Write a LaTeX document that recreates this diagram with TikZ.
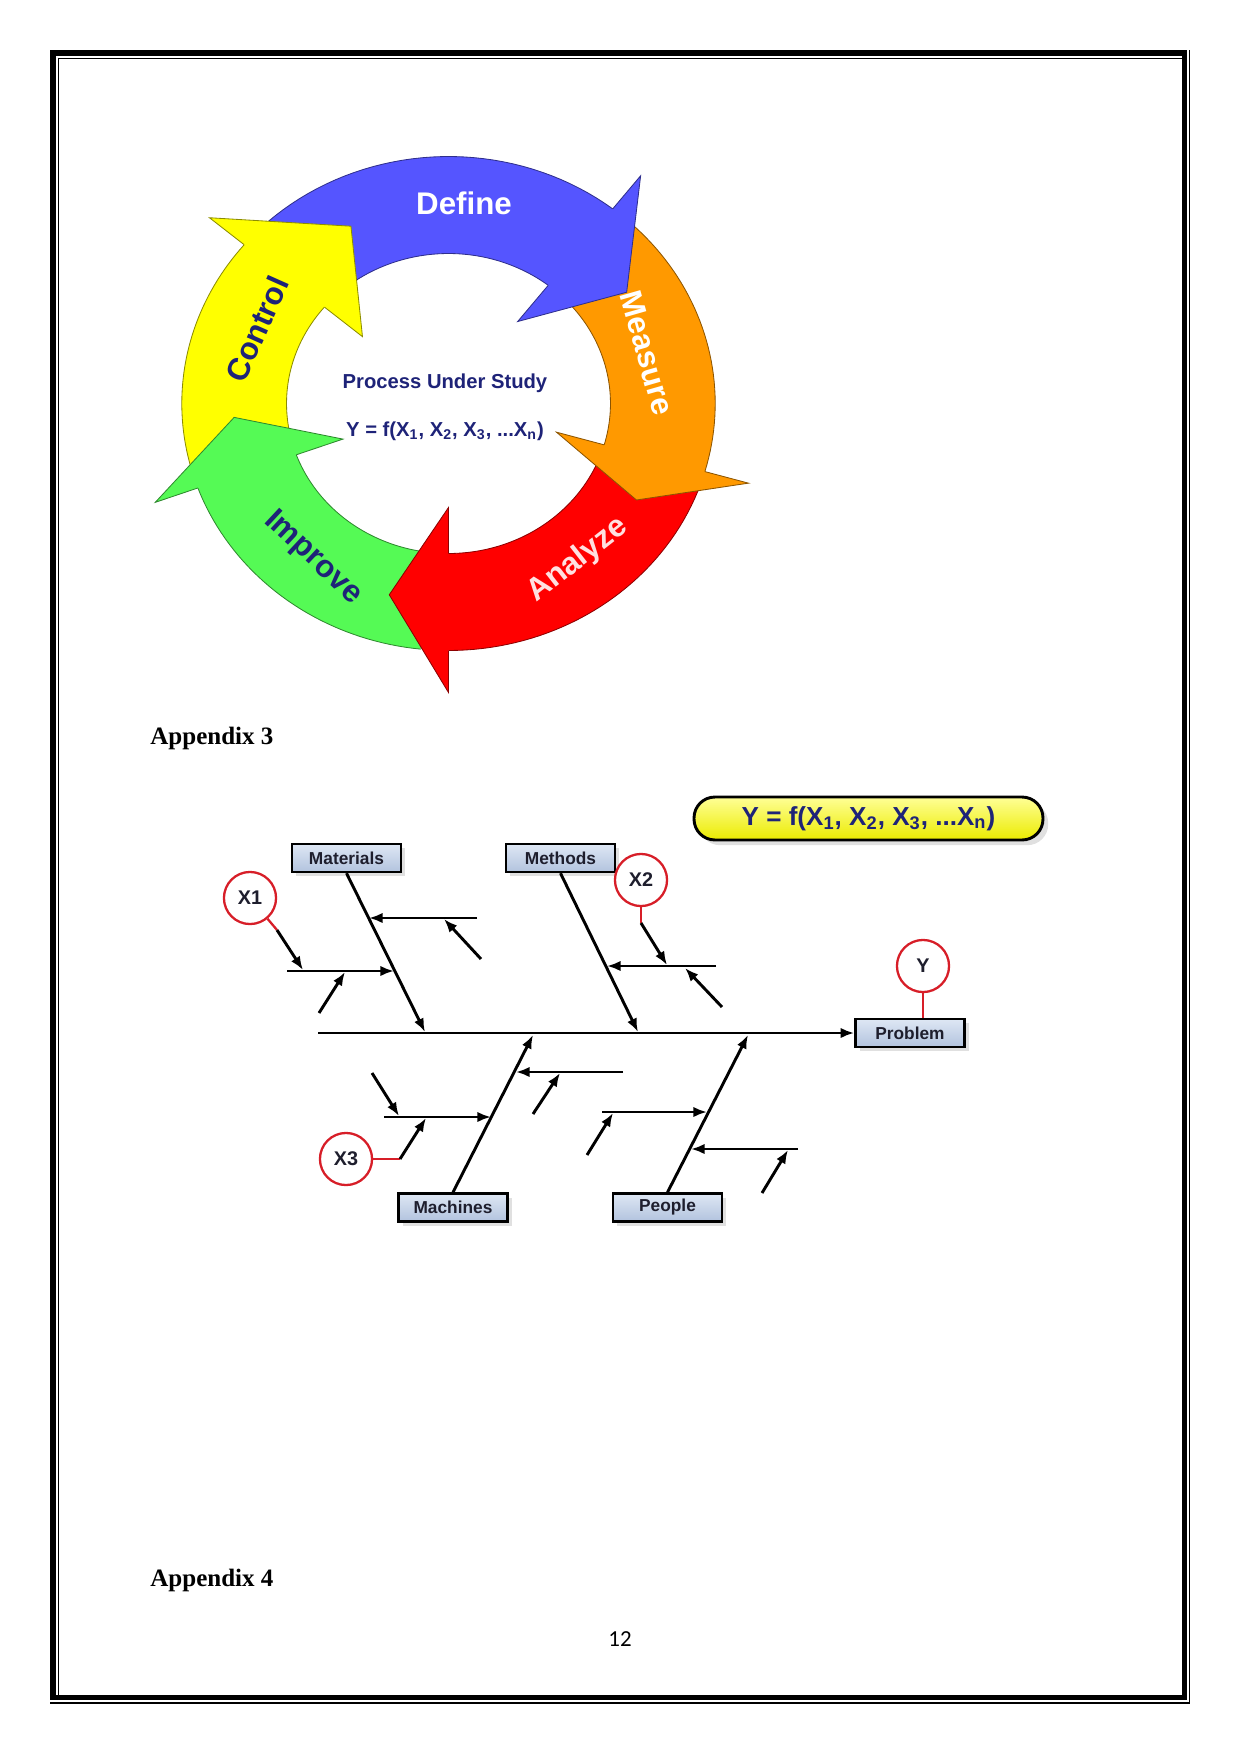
\documentclass[tikz,border=0pt]{standalone}
\usepackage{fontspec}
\setmainfont{Liberation Serif}
\setsansfont{Liberation Sans}
\newfontfamily\pagenofont{Carlito}
\usepackage{tikz}
\usetikzlibrary{positioning,arrows.meta,shadows}
\definecolor{defblue}{RGB}{85,85,255}
\definecolor{measorange}{RGB}{255,153,0}
\definecolor{anared}{RGB}{255,0,0}
\definecolor{impgreen}{RGB}{85,250,85}
\definecolor{ctlyellow}{RGB}{255,255,0}
\definecolor{navyink}{RGB}{30,35,120}
\definecolor{labelink}{RGB}{30,30,45}
\definecolor{boxtop}{RGB}{222,231,244}
\definecolor{boxbot}{RGB}{178,195,222}
\definecolor{xred}{RGB}{215,30,40}
\definecolor{pilltop}{RGB}{255,255,150}
\definecolor{pillbot}{RGB}{235,235,0}

\begin{document}
\begin{tikzpicture}[x=0.4797pt, y=-0.4797pt,
  ringlbl/.style={font=\sffamily\bfseries\fontsize{15}{18}\selectfont, inner sep=0pt},
  midlbl/.style={font=\sffamily\bfseries\fontsize{9.7}{12}\selectfont, text=navyink, inner sep=0pt},
  catbox/.style={draw, line width=1.2pt, top color=boxtop, bottom color=boxbot, minimum width=52.3pt, minimum height=13.4pt, inner sep=0pt, text=labelink, font=\sffamily\bfseries\fontsize{8.3}{10}\selectfont, drop shadow={shadow xshift=2pt, shadow yshift=-2pt, fill=black!12, opacity=1}},
  xcirc/.style={circle, draw=xred, line width=1.1pt, fill=white, minimum size=25pt, inner sep=0pt, text=labelink, font=\sffamily\bfseries\fontsize{9.5}{11}\selectfont},
  bone/.style={line width=1.4pt, -{Latex[length=6.5pt, width=5pt]}},
  tie/.style={draw=xred, line width=1.1pt},
  heading/.style={anchor=base west, inner sep=0pt, font=\rmfamily\bfseries\fontsize{12}{14}\selectfont}]
\useasboundingbox (0,0) rectangle (1241,1754);
\draw[line width=2.8pt] (52.9,52.9) rectangle (1184.5,1697.5);
\draw[line width=0.7pt] (58.4,1695) -- (58.4,58.4) -- (1182,58.4);
\draw[line width=0.7pt] (50,1703) -- (1189.5,1703) -- (1189.5,50);
\begin{scope}[shift={(448.5,403.5)}, x=0.518pt, y=0.4797pt]
\foreach \col/\st/\bs in {defblue/137/52, measorange/47/-16, anared/-19/-90, impgreen/-96/-160, ctlyellow/195/140}{
  \pgfmathsetmacro\ex{\bs-3}
  \fill[\col] plot[domain=\st:\ex, samples=40, variable=\t] (\t:247) -- plot[domain=\ex:\st, samples=40, variable=\t] (\t:150) -- cycle;
  \draw[\col!55!black, line width=0.4pt] plot[domain=\st:\bs, samples=40, variable=\t] (\t:247) plot[domain=\st:\bs, samples=40, variable=\t] (\t:150);
}
\foreach \col/\bs/\tp in {defblue/52/34, measorange/-16/-29, anared/-90/-106, impgreen/-160/-176, ctlyellow/140/117}
  \filldraw[fill=\col, draw=\col!55!black, line width=0.4pt] (\bs:247) -- (\bs:289) -- (\tp:199) -- (\bs:104) -- (\bs:150);
\end{scope}
\node[ringlbl, text=white] (define) at (464,203) {Define};
\node[ringlbl, text=white, rotate=-74] (measure) at (647,353) {Measure};
\node[ringlbl, text=red!12!white, rotate=38] (analyze) at (578,560) {Analyze};
\node[ringlbl, text=navyink, rotate=-43] (improve) at (313,558) {Improve};
\node[ringlbl, text=navyink, rotate=66] (control) at (257,329) {Control};
\node[midlbl, anchor=base] (pus) at (445,388) {Process Under Study};
\node[midlbl, anchor=base] (yfx) at (445,436) {Y = f(X\textsubscript{1}, X\textsubscript{2}, X\textsubscript{3}, ...X\textsubscript{n})};
\node[heading] (app3) at (150,744) {Appendix 3};
\node[heading] (app4) at (150,1586) {Appendix 4};
\node[anchor=base, inner sep=0pt, font=\pagenofont\fontsize{11}{13}\selectfont] (pageno) at (620,1646) {12};
\node[draw, line width=1.4pt, rounded corners=10pt, top color=pilltop, bottom color=pillbot, minimum width=167.4pt, minimum height=20.6pt, text=navyink, font=\sffamily\bfseries\fontsize{12.5}{14}\selectfont, drop shadow={shadow xshift=2.5pt, shadow yshift=-2.5pt, fill=black!12, opacity=1}] (formula) at (868.5,818.5) {Y = f(X\textsubscript{1}, X\textsubscript{2}, X\textsubscript{3}, ...X\textsubscript{n})};
\node[catbox] (materials) at (346.5,858) {Materials};
\node[catbox] (methods) at (560.5,858) {Methods};
\node[catbox] (machines) at (453,1207.5) {Machines};
\node[catbox] (people) at (667.5,1207.5) {People};
\node[catbox] (problem) at (910,1033) {Problem};
\node[xcirc] (x1) at (250,898) {X1};
\node[xcirc] (x2) at (641,880) {X2};
\node[xcirc] (x3) at (346,1159) {X3};
\node[xcirc] (ycirc) at (923,966) {Y};
\coordinate (spinetail) at (318,1033);
\draw[bone] (spinetail) -- (problem);
\draw[tie] (ycirc.south) -- (ycirc.south |- problem.north);
\coordinate (matjoin) at (425,1032); \coordinate (metjoin) at (638,1032);
\coordinate (macjoin) at (533,1035); \coordinate (peojoin) at (748,1035);
\draw[bone] (materials.south) -- (matjoin); \draw[bone] (methods.south) -- (metjoin);
\draw[bone] (machines.north) -- (macjoin); \draw[bone] (people.north) -- (peojoin);
\coordinate (mat1a) at (477,918); \coordinate (mat1b) at (369,918);
\coordinate (mat1c) at (481,959); \coordinate (mat1d) at (444,919);
\coordinate (mat2a) at (287,971); \coordinate (mat2b) at (394,971);
\coordinate (mat2c) at (319,1013); \coordinate (mat2d) at (345,972);
\coordinate (x1knee) at (277,930); \coordinate (x1tip) at (303,970);
\draw[bone] (mat1a) -- (mat1b); \draw[bone] (mat1c) -- (mat1d);
\draw[bone] (mat2a) -- (mat2b); \draw[bone] (mat2c) -- (mat2d);
\draw[tie] (x1) -- (x1knee); \draw[bone] (x1knee) -- (x1tip);
\coordinate (met1a) at (716,966); \coordinate (met1b) at (607,966);
\coordinate (met1c) at (722,1007); \coordinate (met1d) at (685,968);
\coordinate (x2knee) at (641,923); \coordinate (x2tip) at (667,965);
\draw[bone] (met1a) -- (met1b); \draw[bone] (met1c) -- (met1d);
\draw[tie] (x2.south) -- (x2knee); \draw[bone] (x2knee) -- (x2tip);
\coordinate (mac1a) at (623,1072); \coordinate (mac1b) at (516,1072);
\coordinate (mac1c) at (533,1114); \coordinate (mac1d) at (560,1073);
\coordinate (mac2a) at (384,1117); \coordinate (mac2b) at (491,1117);
\coordinate (mac2c) at (372,1073); \coordinate (mac2d) at (399,1116);
\coordinate (x3knee) at (400,1159); \coordinate (x3tip) at (426,1118);
\draw[bone] (mac1a) -- (mac1b); \draw[bone] (mac1c) -- (mac1d);
\draw[bone] (mac2a) -- (mac2b); \draw[bone] (mac2c) -- (mac2d);
\draw[tie] (x3.east) -- (x3knee); \draw[bone] (x3knee) -- (x3tip);
\coordinate (peo1a) at (602,1112); \coordinate (peo1b) at (707,1112);
\coordinate (peo1c) at (587,1155); \coordinate (peo1d) at (613,1113);
\coordinate (peo2a) at (798,1149); \coordinate (peo2b) at (691,1149);
\coordinate (peo2c) at (762,1193); \coordinate (peo2d) at (788,1150);
\draw[bone] (peo1a) -- (peo1b); \draw[bone] (peo1c) -- (peo1d);
\draw[bone] (peo2a) -- (peo2b); \draw[bone] (peo2c) -- (peo2d);
\end{tikzpicture}
\end{document}
